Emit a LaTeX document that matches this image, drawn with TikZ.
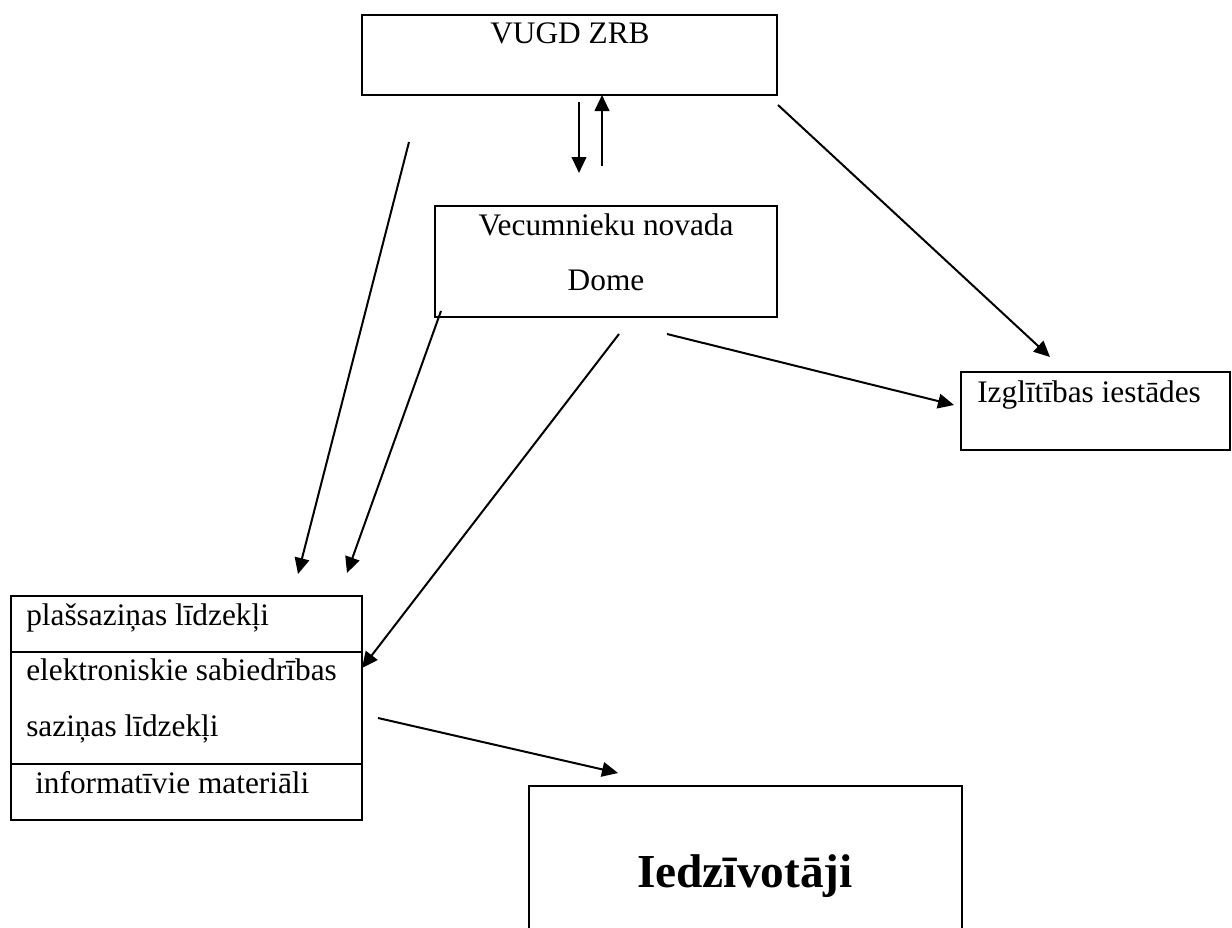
\documentclass[tikz,border=0pt]{standalone}
\usepackage{fontspec}
\setmainfont{Liberation Serif}
\usetikzlibrary{arrows.meta,fit}
\tikzset{
  boxline/.style={draw=black, line width=1.5pt, inner sep=0pt},
  sepline/.style={draw=black, line width=1.5pt},
  conn/.style={draw=black, line width=1.5pt, -{Triangle[length=12pt,width=11pt]}},
  lbl/.style={inner sep=0pt, font=\fontsize{23.5pt}{28pt}\selectfont},
  biglbl/.style={inner sep=0pt, font=\fontsize{35.5pt}{42pt}\selectfont\bfseries},
}
\begin{document}
\begin{tikzpicture}[x=0.75pt,y=-0.75pt]
\useasboundingbox (0,0) rectangle (1232,928);
% boxes
\node[boxline, fit={(362,15)(777,95)}] (vugd) {};
\node[boxline, fit={(435,206)(777,317)}] (dome) {};
\node[boxline, fit={(961,372)(1230,450)}] (izgl) {};
\node[boxline, fit={(11,596)(362,820)}] (media) {};
\coordinate (iedTL) at (529,786);
\coordinate (iedTR) at (962,786);
\coordinate (iedBL) at (529,935);
\coordinate (iedBR) at (962,935);
\draw[sepline] (iedBL) -- (iedTL) -- (iedTR) -- (iedBR);
\coordinate (sepA1) at (11,652);
\coordinate (sepA2) at (362,652);
\coordinate (sepB1) at (11,764);
\coordinate (sepB2) at (362,764);
\draw[sepline] (sepA1) -- (sepA2);
\draw[sepline] (sepB1) -- (sepB2);
% texts
\node[lbl, anchor=base] (tvugd) at (570,43) {VUGD ZRB};
\node[lbl, anchor=base] (tdome1) at (606,235) {Vecumnieku novada};
\node[lbl, anchor=base] (tdome2) at (606,290) {Dome};
\node[lbl, anchor=base west] (tizgl) at (977,402) {Izglītības iestādes};
\node[lbl, anchor=base west] (tm1) at (26,625) {plašsaziņas līdzekļi};
\node[lbl, anchor=base west] (tm2) at (26,680) {elektroniskie sabiedrības};
\node[lbl, anchor=base west] (tm3) at (26,736) {saziņas līdzekļi};
\node[lbl, anchor=base west] (tm4) at (35,793) {informatīvie materiāli};
\node[biglbl, anchor=base] (tied) at (745,887) {Iedzīvotāji};
% connector end points
\coordinate (a1s) at (579,102); \coordinate (a1e) at (579,173);
\coordinate (a2s) at (602,166); \coordinate (a2e) at (602,95);
\coordinate (a3s) at (409,142); \coordinate (a3e) at (298,574);
\coordinate (a4s) at (441,311); \coordinate (a4e) at (347,573);
\coordinate (a5s) at (619,334); \coordinate (a5e) at (362,668);
\coordinate (a6s) at (667,334); \coordinate (a6e) at (954,405);
\coordinate (a7s) at (778,105); \coordinate (a7e) at (1050,357);
\coordinate (a8s) at (378,718); \coordinate (a8e) at (618,773);
% connectors
\draw[conn] (a1s) -- (a1e);
\draw[conn] (a2s) -- (a2e);
\draw[conn] (a3s) -- (a3e);
\draw[conn] (a4s) -- (a4e);
\draw[conn] (a5s) -- (a5e);
\draw[conn] (a6s) -- (a6e);
\draw[conn] (a7s) -- (a7e);
\draw[conn] (a8s) -- (a8e);
\end{tikzpicture}
\end{document}
